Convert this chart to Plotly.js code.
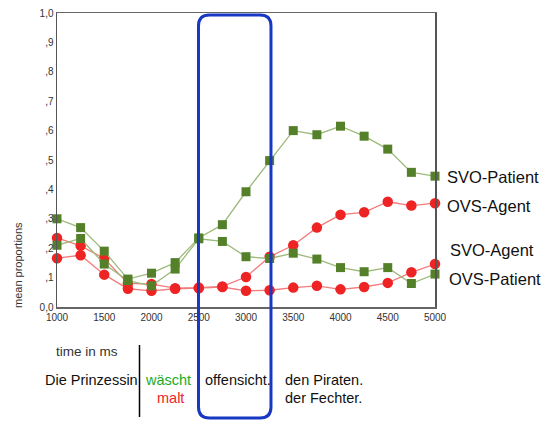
<!DOCTYPE html>
<html><head><meta charset="utf-8">
<script src="https://cdn.plot.ly/plotly-3.0.1.min.js"></script>
<style>body{margin:0;background:#fff}#chart{width:547px;height:422px}</style>
</head><body><div id="chart"></div>
<script>
const timeMs = [1000,1250,1500,1750,2000,2250,2500,2750,3000,3250,3500,3750,4000,4250,4500,4750,5000];
const svoPatient = [0.30,0.27,0.19,0.095,0.115,0.151,0.235,0.28,0.392,0.498,0.60,0.586,0.615,0.581,0.537,0.458,0.445];
const svoAgent   = [0.21,0.233,0.146,0.09,0.072,0.129,0.232,0.223,0.171,0.165,0.183,0.163,0.134,0.12,0.134,0.08,0.112];
const ovsAgent   = [0.235,0.208,0.165,0.08,0.078,0.064,0.066,0.07,0.102,0.171,0.21,0.27,0.314,0.322,0.358,0.345,0.353];
const ovsPatient = [0.166,0.176,0.11,0.062,0.055,0.062,0.064,0.068,0.055,0.057,0.066,0.072,0.06,0.068,0.082,0.118,0.146];
const yTickVals = [0,0.1,0.2,0.3,0.4,0.5,0.6,0.7,0.8,0.9,1.0];
const yTickText = ['0,0',',1',',2',',3',',4',',5',',6',',7',',8',',9','1,0'];
const xTickVals = [1000,1500,2000,2500,3000,3500,4000,4500,5000];

const W=547,H=422,L=57,R=112,T=13,B=115;
const pw=W-L-R, ph=H-T-B;
const px=x=>(x-L)/pw, py=y=>(H-B-y)/ph;
const FONT='Arial, "Liberation Sans", sans-serif';

const green='#55802a', greenLine='#9dba7c', red='#ee2424', redLine='#f27b7b';
function tr(y,isGreen,name){
  return {x:timeMs,y:y,name:name,type:'scatter',mode:'lines+markers',cliponaxis:false,
    line:{color:isGreen?greenLine:redLine,width:1.3},
    marker:{symbol:isGreen?'square':'circle',size:isGreen?9:10.5,color:isGreen?green:red}};
}
const data=[tr(ovsPatient,false,'OVS-Patient'),tr(ovsAgent,false,'OVS-Agent'),tr(svoAgent,true,'SVO-Agent'),tr(svoPatient,true,'SVO-Patient')];

// rounded rectangle path in paper coords
function rrect(x0,y0,x1,y1,r){
  const X=v=>px(v).toFixed(4), Y=v=>py(v).toFixed(4);
  return 'M'+X(x0+r)+','+Y(y0)+' L'+X(x1-r)+','+Y(y0)+' Q'+X(x1)+','+Y(y0)+' '+X(x1)+','+Y(y0+r)+
   ' L'+X(x1)+','+Y(y1-r)+' Q'+X(x1)+','+Y(y1)+' '+X(x1-r)+','+Y(y1)+
   ' L'+X(x0+r)+','+Y(y1)+' Q'+X(x0)+','+Y(y1)+' '+X(x0)+','+Y(y1-r)+
   ' L'+X(x0)+','+Y(y0+r)+' Q'+X(x0)+','+Y(y0)+' '+X(x0+r)+','+Y(y0)+' Z';
}

function ann(text,x,y,opts){
  return Object.assign({text:text,x:px(x),y:py(y),xref:'paper',yref:'paper',showarrow:false,
    xanchor:'left',yanchor:'middle',font:{family:FONT,size:14.5,color:'#111'}},opts||{});
}
const annotations=[
  ann('SVO-Patient',445,177,{font:{family:FONT,size:16.5,color:'#111'}}),
  ann('OVS-Agent',445,206,{font:{family:FONT,size:16.5,color:'#111'}}),
  ann('SVO-Agent',448,250,{font:{family:FONT,size:16.5,color:'#111'}}),
  ann('OVS-Patient',447,279,{font:{family:FONT,size:16.5,color:'#111'}}),
  ann('mean proportions',18,265,{xanchor:'center',textangle:-90,font:{family:FONT,size:11,color:'#333'}}),
  ann('time in ms',87,351,{xanchor:'center',font:{family:FONT,size:13.5,color:'#333'}}),
  ann('Die Prinzessin',43,380),
  ann('wäscht',168,380,{xanchor:'center',font:{family:FONT,size:14.5,color:'#22aa22'}}),
  ann('malt',170,398,{xanchor:'center',font:{family:FONT,size:14.5,color:'#ee2424'}}),
  ann('offensicht.',203,380),
  ann('den Piraten.',283,380),
  ann('der Fechter.',283,398)
];

const shapes=[
  {type:'path',xref:'paper',yref:'paper',path:rrect(198.5,15,271,418,11),line:{color:'#1838c4',width:3}},
  {type:'line',xref:'paper',yref:'paper',x0:px(139.5),x1:px(139.5),y0:py(345),y1:py(417),line:{color:'#000',width:1.5}}
];

const layout={width:W,height:H,margin:{l:L,r:R,t:T,b:B,pad:0},
  paper_bgcolor:'#fff',plot_bgcolor:'#fff',showlegend:false,
  font:{family:FONT,color:'#333'},
  xaxis:{range:[1000,5000],tickvals:xTickVals,ticks:'',showgrid:false,zeroline:false,
    showline:true,linecolor:'#666',linewidth:1.5,mirror:true,tickfont:{family:FONT,size:10,color:'#333'}},
  yaxis:{range:[0,1],tickvals:yTickVals,ticktext:yTickText,ticks:'',showgrid:false,zeroline:false,
    showline:true,linecolor:'#555',linewidth:1.5,mirror:true,tickfont:{family:FONT,size:10,color:'#333'}},
  shapes:shapes,annotations:annotations};
Plotly.newPlot('chart',data,layout,{displayModeBar:false,staticPlot:true});
</script></body></html>
